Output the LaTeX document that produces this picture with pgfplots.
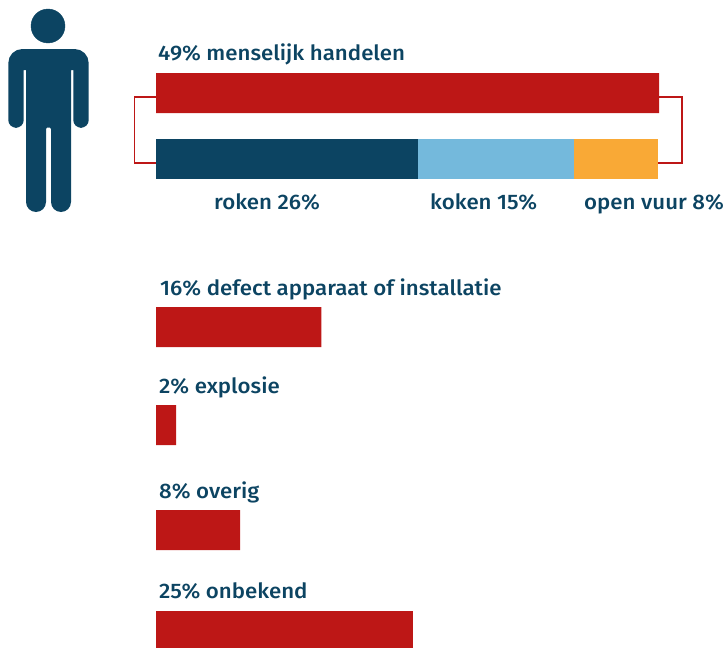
\documentclass[border=0pt]{standalone}
\usepackage{fontspec}
\setmainfont[FakeStretch=1.06]{Fira Sans Medium}
\usepackage{pgfplots}
\usepackage{pgfplotstable}
\pgfplotsset{compat=1.18}

\definecolor{brandred}{HTML}{BD1716}
\definecolor{navy}{HTML}{0C4462}
\definecolor{skyblue}{HTML}{74B9DC}
\definecolor{amber}{HTML}{F9A936}

% row position (pixels from top), then share per segment
\pgfplotstableread{
pos  human  smoke  cook  fire
93   48.98  0      0     0
159  0      25.5   15.2  8.15
327  16.1   0      0     0
425  1.95   0      0     0
530  8.2    0      0     0
631  25     0      0     0
}\causes

\tikzset{lbl/.style={font=\fontsize{21}{23}\selectfont, text=navy, anchor=base west, inner sep=0pt}}

\begin{document}
\begin{tikzpicture}
\useasboundingbox (0pt,0pt) rectangle (723pt,648pt);
% figure, brackets and labels, in picture pixels
\begin{axis}[
    at={(0pt,0pt)}, anchor=south west,
    width=723pt, height=648pt, scale only axis,
    xmin=0, xmax=723, ymin=0, ymax=648,
    y dir=reverse,
    hide axis,
    clip=false,
]
\addplot[only marks, mark=*, mark size=17pt, mark options={draw=navy, fill=navy}]
    coordinates {(48,26)};
\addplot[draw=none, fill=navy] coordinates {
    (23.7,70)(23.7,120.2)(23.1,123.1)(21.4,125.6)(18.9,127.1)(16,127.9)(13.1,127.1)(10.6,125.6)(8.9,123.1)(8.3,120.2)
    (8.3,63)(9.4,57.6)(12.4,53.1)(16.9,50.1)(22.3,49)
    (74.7,49)(80.1,50.1)(84.6,53.1)(87.6,57.6)(88.7,63)
    (88.7,120.2)(88.1,123.1)(86.4,125.6)(83.9,127.1)(81,127.9)(78.1,127.1)(75.6,125.6)(73.9,123.1)(73.3,120.2)
    (73.3,70)(71,70)
    (71,202)(70.2,205.8)(68.1,209.1)(64.8,211.2)(61,212)(57.2,211.2)(53.9,209.1)(51.8,205.8)(51,202)
    (51,129)(50,127.5)(47,127.5)(46,129)
    (46,202)(45.2,205.8)(43.1,209.1)(39.8,211.2)(36,212)(32.2,211.2)(28.9,209.1)(26.8,205.8)(26,202)
    (26,70)
} --cycle;
% brackets between the two top bars
\addplot[brandred, line width=1.7pt] coordinates {(157,97)(134.5,97)(134.5,163)(157,163)};
\addplot[brandred, line width=1.7pt] coordinates {(658,97)(681.7,97)(681.7,163)(657,163)};

\node[lbl] at (axis cs:158,60) {49\% menselijk handelen};
\node[lbl] at (axis cs:214,209) {roken 26\%};
\node[lbl] at (axis cs:430,209) {koken 15\%};
\node[lbl] at (axis cs:584,209) {open vuur 8\%};
\node[lbl] at (axis cs:160,295) {16\% defect apparaat of installatie};
\node[lbl] at (axis cs:159,393) {2\% explosie};
\node[lbl] at (axis cs:159,498) {8\% overig};
\node[lbl] at (axis cs:159,598) {25\% onbekend};
\end{axis}

% the bars, in percent
\begin{axis}[
    at={(0pt,0pt)}, anchor=south west,
    width=723pt, height=648pt, scale only axis,
    xmin=-15.19, xmax=55.21, ymin=0, ymax=648,
    y dir=reverse,
    hide axis,
    xbar stacked,
    bar width=40pt,
]
\addplot[draw=none, fill=brandred] table[x=human, y=pos] {\causes};
\addplot[draw=none, fill=navy] table[x=smoke, y=pos] {\causes};
\addplot[draw=none, fill=skyblue] table[x=cook, y=pos] {\causes};
\addplot[draw=none, fill=amber] table[x=fire, y=pos] {\causes};
\end{axis}
\end{tikzpicture}
\end{document}
